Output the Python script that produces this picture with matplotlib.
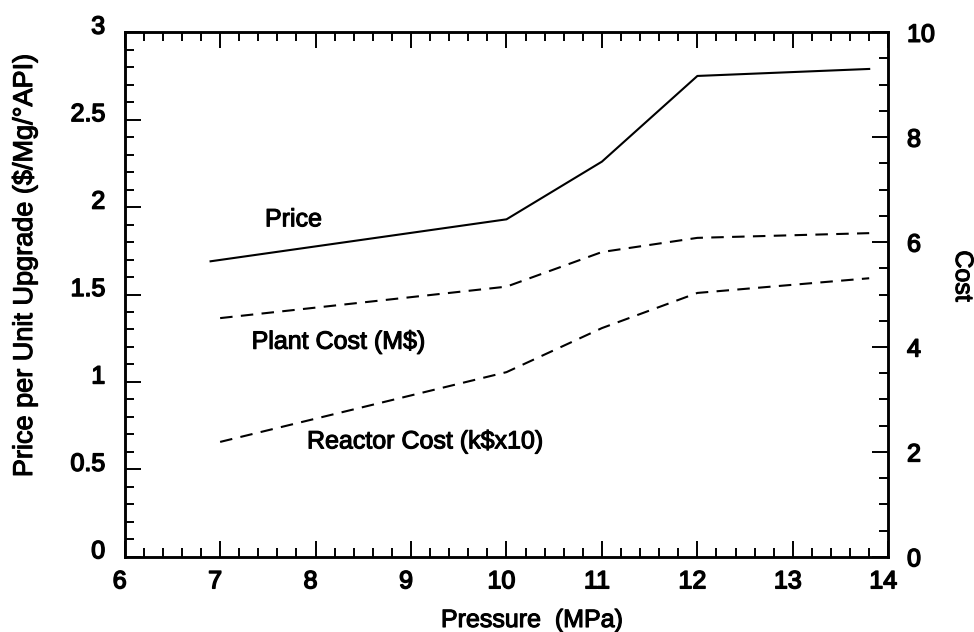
import matplotlib.pyplot as plt
import matplotlib.patheffects as pe
from matplotlib.ticker import MultipleLocator
from matplotlib.transforms import ScaledTranslation

plt.rcParams['font.family'] = ['Liberation Sans', 'DejaVu Sans']

# data
pressure = [6.9, 10.0, 11.0, 12.0, 13.8]
price = [1.69, 1.93, 2.26, 2.75, 2.79]          # $/Mg/°API, left axis
pressure_cost = [7.0, 10.0, 11.0, 12.0, 13.8]
plant_cost = [4.55, 5.15, 5.81, 6.08, 6.17]     # M$, right axis
reactor_cost = [2.19, 3.52, 4.36, 5.03, 5.31]   # k$x10, right axis

# slightly heavier text, like the scanned original
heavy = [pe.withStroke(linewidth=0.8, foreground='black')]
heavier = [pe.withStroke(linewidth=1.1, foreground='black')]

fig = plt.figure(figsize=(9.74, 6.32), dpi=100)
ax = fig.add_axes([0.128, 0.119, 0.784, 0.830])
ax2 = ax.twinx()

ax.plot(pressure, price, color='black', lw=1.5)
ax2.plot(pressure_cost, plant_cost, color='black', lw=1.5, ls=(0, (6, 4)))
ax2.plot(pressure_cost, reactor_cost, color='black', lw=1.5, ls=(0, (6, 4)))

ax.set_xlim(6, 14)
ax.set_ylim(0, 3)
ax2.set_ylim(0, 10)

ax.xaxis.set_major_locator(MultipleLocator(1))
ax.xaxis.set_minor_locator(MultipleLocator(0.2))
ax.yaxis.set_minor_locator(MultipleLocator(0.1))
ax.set_yticks([0, 0.5, 1, 1.5, 2, 2.5, 3], ['0', '0.5', '1', '1.5', '2', '2.5', '3'])
ax2.yaxis.set_major_locator(MultipleLocator(2))
ax2.yaxis.set_minor_locator(MultipleLocator(0.5))

ax.tick_params(which='both', direction='in', top=True, width=1.4, labelsize=18)
ax.tick_params(axis='x', pad=9)
ax.tick_params(axis='y', pad=14)
ax.tick_params(which='major', length=11.5)
ax.tick_params(which='minor', length=6.5)
ax2.tick_params(which='both', direction='in', width=1.4, labelsize=18, pad=13.5)
ax2.tick_params(which='major', length=11.5)
ax2.tick_params(which='minor', length=6.5)

for a in (ax, ax2):
    for s in a.spines.values():
        s.set_linewidth(1.8)

# left tick labels sit a little above their ticks, bottom ones a little left
up = ScaledTranslation(0, 0.08, fig.dpi_scale_trans)
left = ScaledTranslation(-0.05, 0, fig.dpi_scale_trans)
for lab in ax.get_yticklabels():
    lab.set_transform(lab.get_transform() + up)
    lab.set_path_effects(heavier)
for lab in ax2.get_yticklabels():
    lab.set_path_effects(heavier)
for lab in ax.get_xticklabels():
    lab.set_transform(lab.get_transform() + left)
    lab.set_path_effects(heavier)

fig.text(532 / 974, 1 - 620 / 632, 'Pressure  (MPa)', fontsize=18,
         ha='center', va='center', path_effects=heavy)
fig.text(25 / 974, 1 - 265 / 632, 'Price per Unit Upgrade ($/Mg/°API)',
         fontsize=19.5, rotation=90, ha='center', va='center', path_effects=heavy)
fig.text(963 / 974, 1 - 276 / 632, 'Cost', fontsize=18, rotation=-90,
         ha='center', va='center', path_effects=heavy)

ax.text(7.47, 1.93, 'Price', fontsize=18, ha='left', va='center', path_effects=heavy)
ax.text(7.33, 1.23, 'Plant Cost (M$)', fontsize=18, ha='left', va='center', path_effects=heavy)
ax.text(7.91, 0.66, 'Reactor Cost (k$x10)', fontsize=18, ha='left', va='center', path_effects=heavy)

fig.savefig('out.png', dpi=100)
